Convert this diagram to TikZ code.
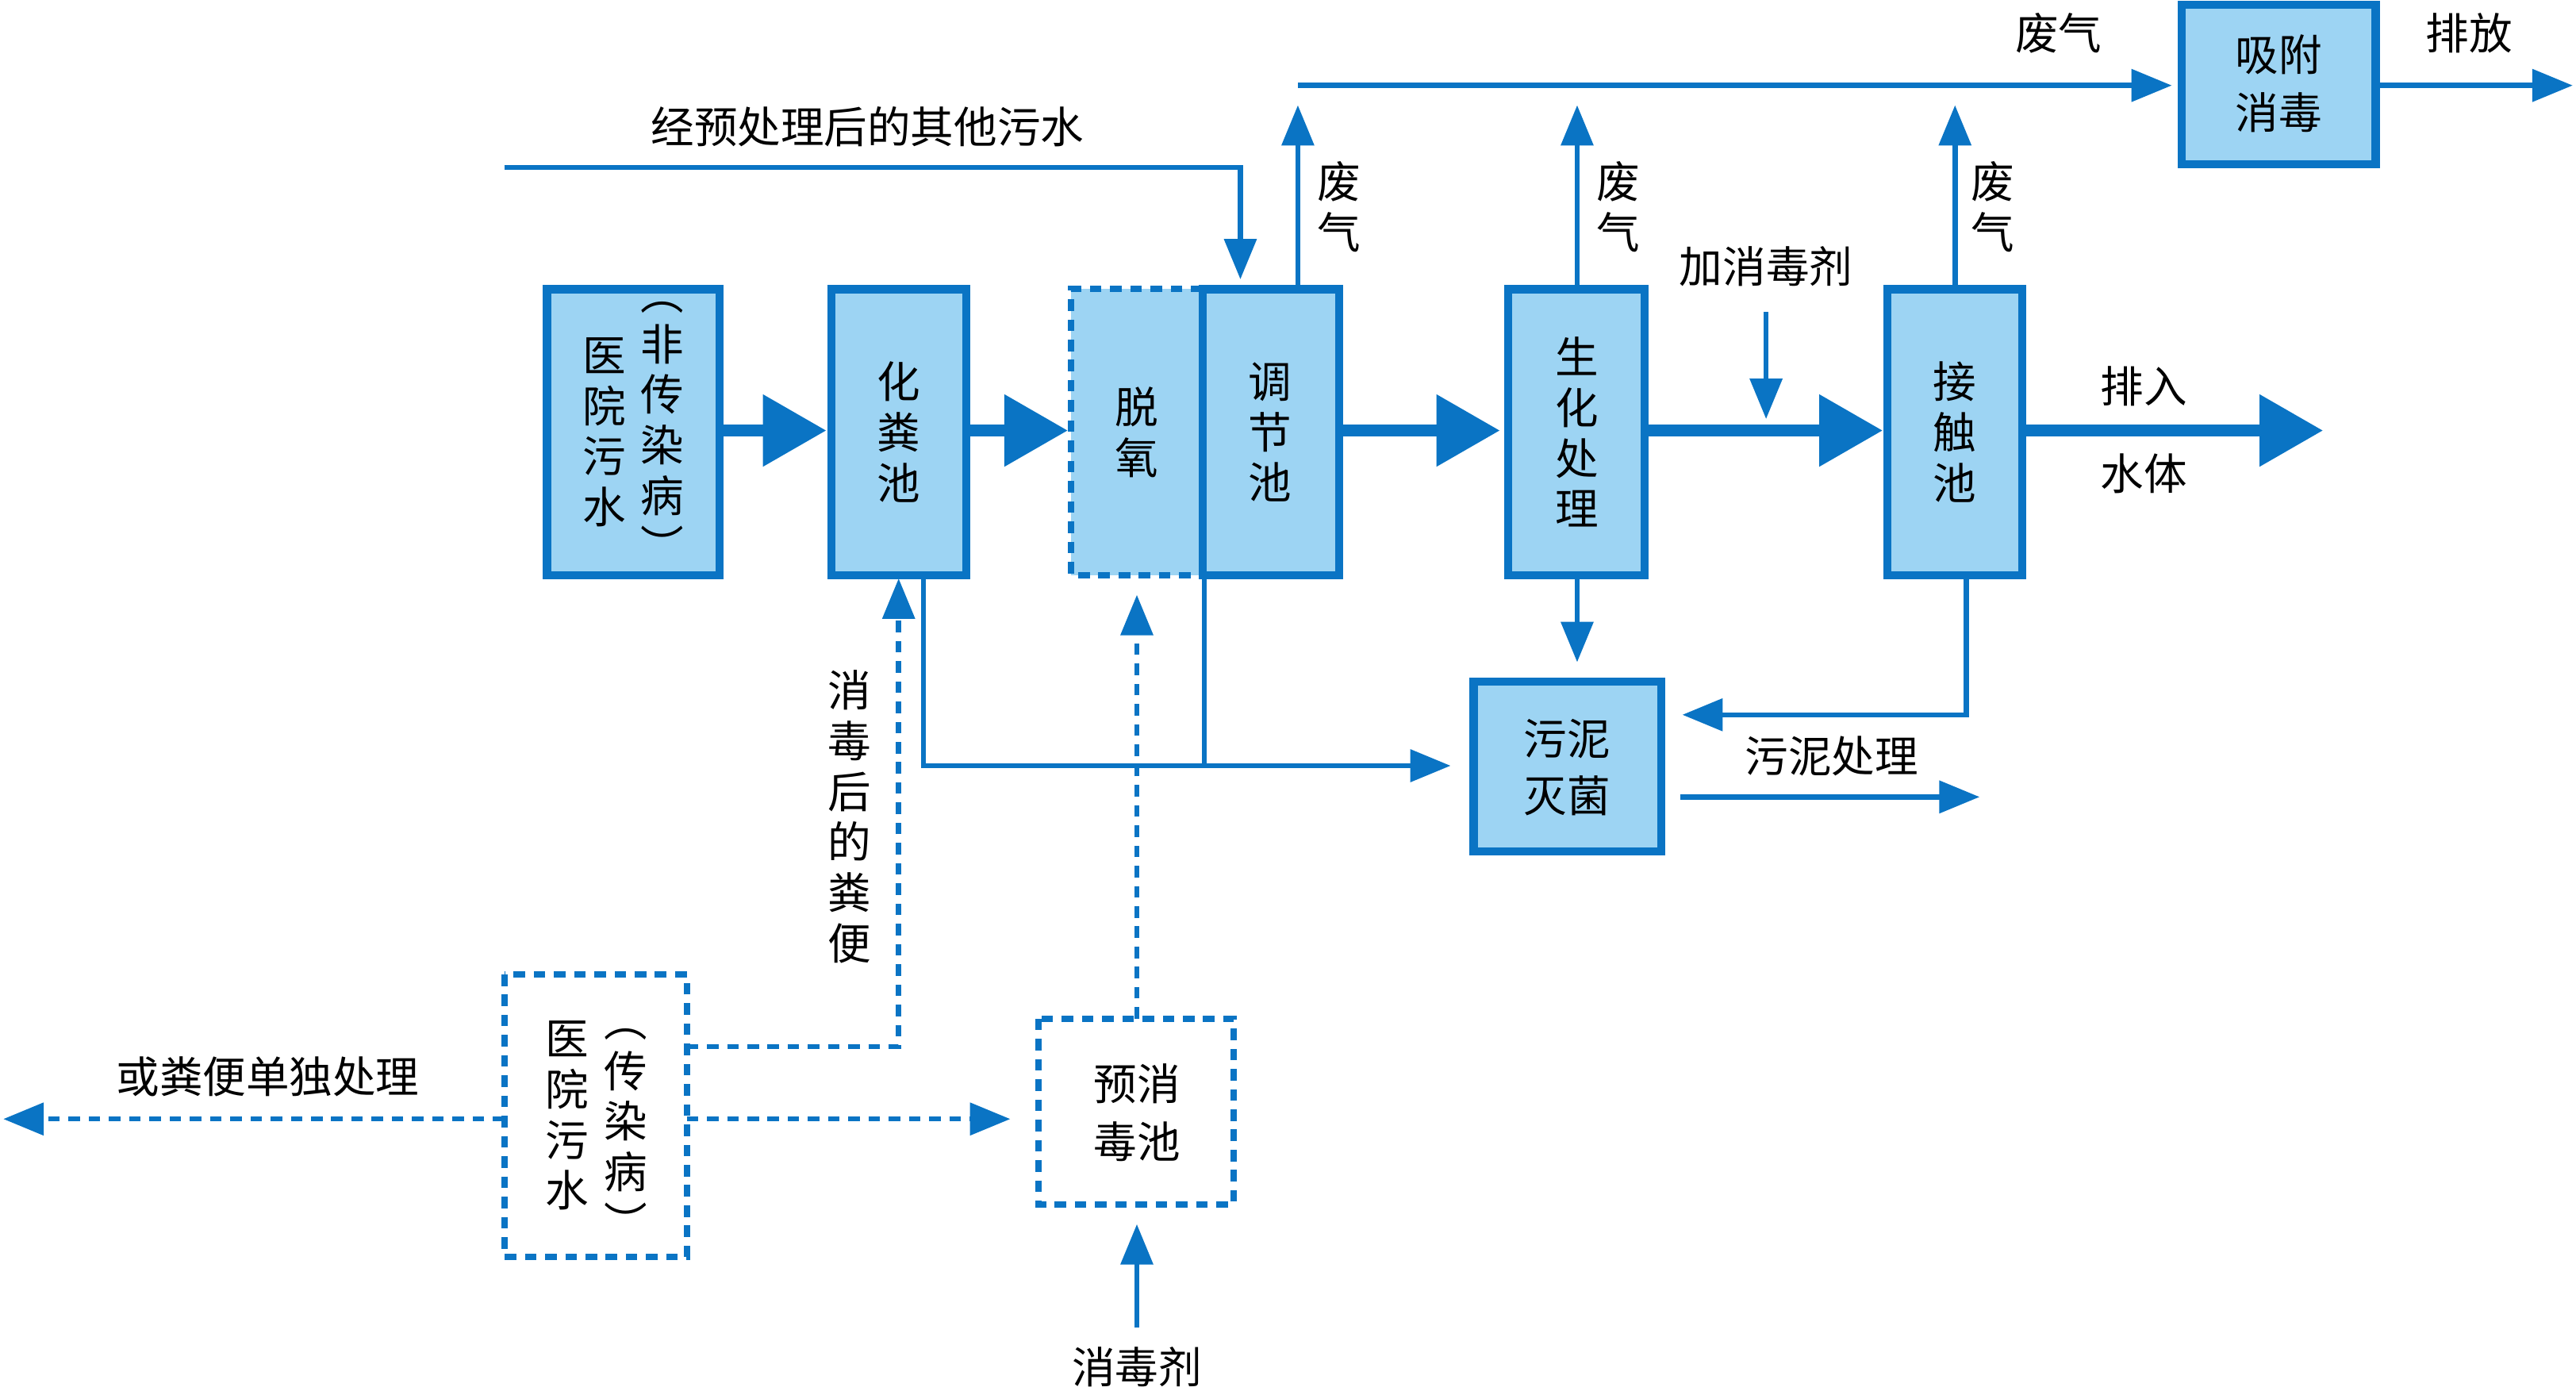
\documentclass[tikz,border=0pt]{standalone}
\usepackage{fontspec}
\setmainfont{Noto Sans CJK SC}
\usetikzlibrary{arrows.meta}
\definecolor{bl}{HTML}{0A74C4}
\definecolor{lb}{HTML}{9DD4F3}
\begin{document}
\begin{tikzpicture}[x=0.02cm,y=-0.02cm,
 box/.style={draw=bl,line width=2.8pt,fill=lb},
 dbox/.style={draw=bl,line width=2.2pt,dash pattern=on 4pt off 3pt},
 thin/.style={draw=bl,line width=1.8pt,-{Triangle[length=14pt,width=11pt]}},
 thick/.style={draw=bl,line width=4pt,-{Triangle[length=22pt,width=24pt]}},
 dthin/.style={thin,dash pattern=on 4pt off 3pt},
 txt/.style={font=\fontsize{15pt}{20pt}\selectfont,align=center,inner sep=0pt},
 vt/.style={txt,font=\fontsize{15pt}{17.5pt}\selectfont}]
\useasboundingbox (0,0) rectangle (1568,846.5);
% boxes
\draw[box] (333,176) rectangle (438,350);
\node[vt] (a1) at (368,263) {医\\院\\污\\水};
\node[vt] (a2) at (403,263) {︵\\非\\传\\染\\病\\︶};
\coordinate (A) at (438,262);
\draw[box] (506,176) rectangle (588,350);
\node[vt] (B) at (547,263) {化\\粪\\池};
\fill[lb] (652,176) rectangle (732,350);
\draw[dbox] (732,176) -- (652,176) -- (652,350) -- (732,350);
\node[vt] (C) at (692,263) {脱\\氧};
\draw[box] (732,176) rectangle (815,350);
\node[vt] (D) at (773,263) {调\\节\\池};
\draw[box] (918,176) rectangle (1001,350);
\node[vt] (E) at (960,263) {生\\化\\处\\理};
\draw[box] (1149,176) rectangle (1231,350);
\node[vt] (F) at (1190,263) {接\\触\\池};
\draw[box] (897,415) rectangle (1011,518);
\node[txt] (G) at (954,467) {污泥\\灭菌};
\draw[box] (1328,3) rectangle (1446,100);
\node[txt] (H) at (1387,51) {吸附\\消毒};
\draw[dbox] (307,593) rectangle (418,765);
\node[vt] (i1) at (345,679) {医\\院\\污\\水};
\node[vt] (i2) at (381,690) {︵\\传\\染\\病\\︶};
\draw[dbox] (632,620) rectangle (751,733);
\node[txt] (J) at (692,677) {预消\\毒池};
% main arrows
\draw[thick] (438,262) -- (503,262);
\draw[thick] (588,262) -- (650,262);
\draw[thick] (815,262) -- (913,262);
\draw[thick] (1001,262) -- (1146,262);
\draw[thick] (1231,262) -- (1414,262);
\node[txt] at (1305,235) {排入};
\node[txt] at (1305,288) {水体};
% other water
\node[txt] at (528,77) {经预处理后的其他污水};
\draw[thin] (307,102) -- (755,102) -- (755,170);
% waste gas
\draw[thin] (790,176) -- (790,64);
\draw[thin] (790,52) -- (1322,52);
\node[txt] at (1253,20) {废气};
\node[vt] at (815,126) {废\\气};
\draw[thin] (960,176) -- (960,64);
\node[vt] at (985,126) {废\\气};
\draw[thin] (1190,176) -- (1190,64);
\node[vt] at (1213,126) {废\\气};
\draw[thin] (1446,52) -- (1566,52);
\node[txt] at (1503,20) {排放};
\node[txt] at (1075,162) {加消毒剂};
\draw[thin] (1075,190) -- (1075,255);
% sludge
\draw[thin] (960,350) -- (960,403);
\draw[thin] (1197,350) -- (1197,435) -- (1024,435);
\draw[thin] (562,350) -- (562,466) -- (883,466);
\draw[draw=bl,line width=1.8pt] (733,350) -- (733,466);
\draw[thin] (1023,485) -- (1205,485);
\node[txt] at (1115,460) {污泥处理};
% dotted
\draw[dthin] (418,637) -- (547,637) -- (547,352);
\node[vt] at (517,497) {消\\毒\\后\\的\\粪\\便};
\draw[dthin] (418,681) -- (615,681);
\draw[dthin] (307,681) -- (2,681);
\node[txt] at (163,655) {或粪便单独处理};
\draw[dthin] (692,620) -- (692,362);
\draw[thin] (692,808) -- (692,745);
\node[txt] at (692,832) {消毒剂};
\end{tikzpicture}
\end{document}
